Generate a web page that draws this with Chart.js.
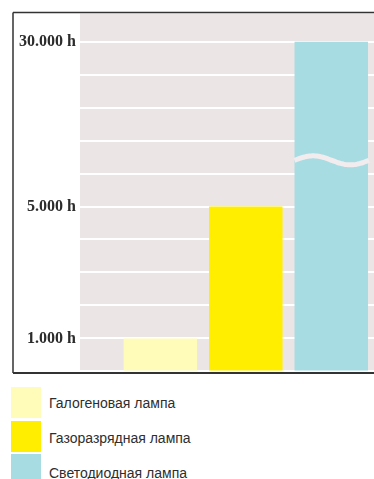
<!DOCTYPE html>
<html lang="ru">
<head>
<meta charset="UTF-8">
<title>Срок службы ламп</title>
<script src="https://cdn.jsdelivr.net/npm/chart.js@4.4.1/dist/chart.umd.min.js"></script>
<style>
  body{
    margin: 0;
    background: #fff;
  }
  .wrap{
    position: absolute;
    left: 0;
    top: 0;
    width: 374px;
    height: 385px;
  }
  .legend{
    position: absolute;
    left: 0;
    top: 0;
    font-family: "Liberation Sans", Arial, sans-serif;
    font-size: 14px;
    color: #2e2e2e;
  }
  .legend .sw{
    position: absolute;
    left: 11px;
    width: 30px;
    height: 31px;
  }
  .legend .tx{
    position: absolute;
    left: 49px;
    white-space: nowrap;
    line-height: 16px;
  }
</style>
</head>
<body>
<div class="wrap"><canvas id="lamps"></canvas></div>
<div class="legend" id="legend"></div>
<script>
// data
const lampTypes = ['Галогеновая лампа', 'Газоразрядная лампа', 'Светодиодная лампа'];
const lifetimeHours = [1000, 5000, 30000];
const lampColors = ['#fffbb9', '#ffee00', '#a7dde2'];
const tickHours = [1000, 5000, 30000];
const tickLabels = ['1.000 h', '5.000 h', '30.000 h'];

// axis is 1 step per 1000 h, with a break: 30.000 h sits on step 10
const toAxis = h => h > 9000 ? 10 : h / 1000;
const breakAt = 6.4;

const bars = lampTypes.map((t, i) => ({ x: i + 1, y: toAxis(lifetimeHours[i]) }));

const frame = {
  id: 'frame',
  beforeDraw(chart) {
    const a = chart.chartArea, c = chart.ctx;
    c.save();
    c.fillStyle = '#ebe5e6';
    c.fillRect(a.left, a.top, a.right - a.left, a.bottom - a.top);
    c.restore();
  },
  afterDatasetsDraw(chart) {
    // wavy break across the tall bar
    const el = chart.getDatasetMeta(0).data[2];
    const y0 = chart.scales.y.getPixelForValue(breakAt);
    const l = el.x - el.width / 2, w = el.width + 1;
    const c = chart.ctx;
    c.save();
    c.strokeStyle = '#f3ecee';
    c.lineWidth = 5;
    c.beginPath();
    for (let t = 0; t <= 1.0001; t += 0.02) {
      const px = l + t * w, py = y0 - 4.5 * Math.sin(t * 2 * Math.PI);
      if (t === 0) c.moveTo(px, py); else c.lineTo(px, py);
    }
    c.stroke();
    c.restore();
  },
  afterDraw(chart) {
    const a = chart.chartArea, c = chart.ctx;
    c.save();
    c.strokeStyle = '#333';
    c.lineWidth = 1.5;
    c.beginPath();
    c.moveTo(13, a.top - 1); c.lineTo(chart.width, a.top - 1);
    c.moveTo(13, a.top - 1); c.lineTo(13, a.bottom + 1.5);
    c.stroke();
    c.lineWidth = 2;
    c.beginPath();
    c.moveTo(13, a.bottom + 1.5); c.lineTo(chart.width, a.bottom + 1.5);
    c.stroke();
    c.restore();
  }
};

new Chart(document.getElementById('lamps'), {
  type: 'bar',
  data: {
    datasets: [{
      data: bars,
      backgroundColor: lampColors,
      borderWidth: 0,
      categoryPercentage: 1,
      barPercentage: 0.86
    }]
  },
  options: {
    responsive: true,
    maintainAspectRatio: false,
    animation: false,
    layout: { padding: { top: 12, bottom: 11, left: 0, right: 0 } },
    plugins: { legend: { display: false }, tooltip: { enabled: false } },
    scales: {
      x: {
        type: 'linear',
        display: false,
        offset: false,
        min: 0.06,
        max: 3.5,
        ticks: { stepSize: 1, includeBounds: false }
      },
      y: {
        min: 0,
        max: 10.85,
        afterFit: s => { s.width = 80; },
        border: { display: false },
        grid: { color: '#fff', lineWidth: 2, drawTicks: false },
        ticks: {
          stepSize: 1,
          includeBounds: false,
          padding: 4,
          color: '#2b2b2b',
          font: { family: '"Liberation Serif", "Times New Roman", serif', size: 16, weight: 'bold' },
          callback: v => {
            const i = tickHours.findIndex(h => toAxis(h) === v);
            return i >= 0 ? tickLabels[i] : '';
          }
        }
      }
    }
  },
  plugins: [frame]
});

// legend below the frame
const leg = document.getElementById('legend');
lampTypes.forEach((t, i) => {
  const top = 387 + i * 33.5;
  const sw = document.createElement('div');
  sw.className = 'sw';
  sw.style.top = top + 'px';
  sw.style.background = lampColors[i];
  leg.appendChild(sw);
  const tx = document.createElement('div');
  tx.className = 'tx';
  tx.style.top = (394.5 + i * 35) + 'px';
  tx.textContent = t;
  leg.appendChild(tx);
});
</script>
</body>
</html>
